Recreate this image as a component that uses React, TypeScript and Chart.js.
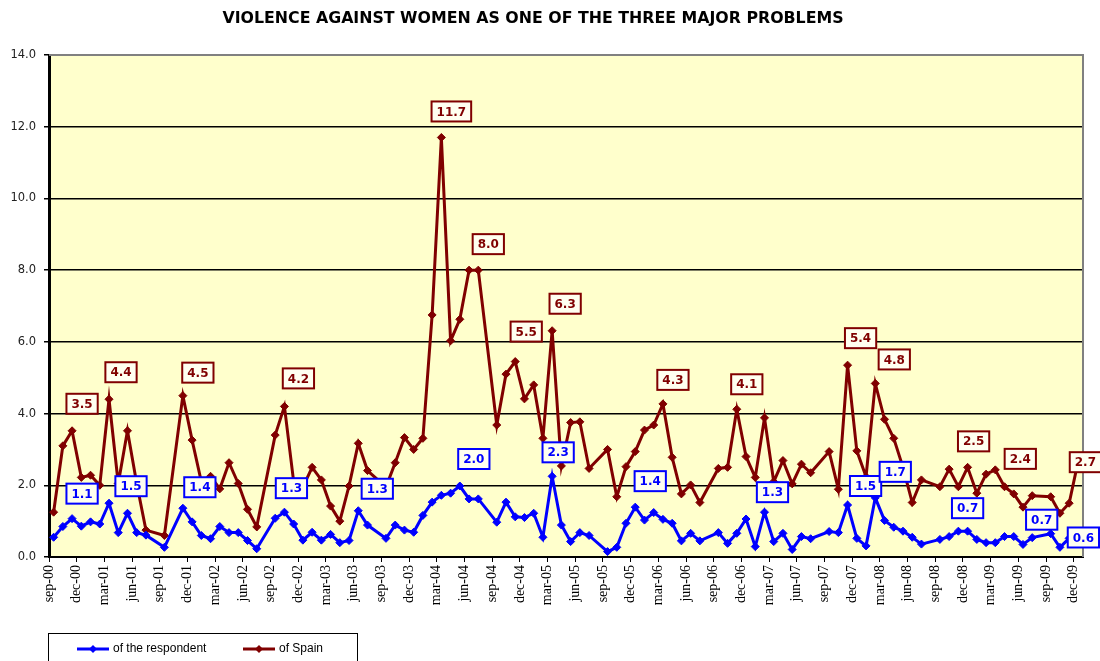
import { useEffect, useRef } from 'react';
import { Chart, registerables } from 'chart.js';

Chart.register(...registerables);

const TITLE = 'VIOLENCE AGAINST WOMEN AS ONE OF THE THREE MAJOR PROBLEMS';
const seriesNames = ['of the respondent', 'of Spain'];

// survey months (August and oct-01 have no survey)
const surveyMonths = [
  'sep-00', 'oct-00', 'nov-00', 'dec-00',
  'jan-01', 'feb-01', 'mar-01', 'apr-01', 'may-01', 'jun-01', 'jul-01', 'sep-01', 'nov-01', 'dec-01',
  'jan-02', 'feb-02', 'mar-02', 'apr-02', 'may-02', 'jun-02', 'jul-02', 'sep-02', 'oct-02', 'nov-02', 'dec-02',
  'jan-03', 'feb-03', 'mar-03', 'apr-03', 'may-03', 'jun-03', 'jul-03', 'sep-03', 'oct-03', 'nov-03', 'dec-03',
  'jan-04', 'feb-04', 'mar-04', 'apr-04', 'may-04', 'jun-04', 'jul-04', 'sep-04', 'oct-04', 'nov-04', 'dec-04',
  'jan-05', 'feb-05', 'mar-05', 'apr-05', 'may-05', 'jun-05', 'jul-05', 'sep-05', 'oct-05', 'nov-05', 'dec-05',
  'jan-06', 'feb-06', 'mar-06', 'apr-06', 'may-06', 'jun-06', 'jul-06', 'sep-06', 'oct-06', 'nov-06', 'dec-06',
  'jan-07', 'feb-07', 'mar-07', 'apr-07', 'may-07', 'jun-07', 'jul-07', 'sep-07', 'oct-07', 'nov-07', 'dec-07',
  'jan-08', 'feb-08', 'mar-08', 'apr-08', 'may-08', 'jun-08', 'jul-08', 'sep-08', 'oct-08', 'nov-08', 'dec-08',
  'jan-09', 'feb-09', 'mar-09', 'apr-09', 'may-09', 'jun-09', 'jul-09', 'sep-09', 'oct-09', 'nov-09', 'dec-09',
];

const respondentValues = [
  0.55, 0.85, 1.07, 0.86,
  0.98, 0.92, 1.5, 0.68, 1.22, 0.68, 0.61, 0.27, 1.36, 0.98,
  0.6, 0.51, 0.85, 0.68, 0.68, 0.46, 0.23, 1.08, 1.25, 0.92, 0.47,
  0.69, 0.47, 0.63, 0.4, 0.46, 1.29, 0.89, 0.52, 0.89, 0.75, 0.69,
  1.16, 1.53, 1.72, 1.78, 1.98, 1.62, 1.62, 0.97, 1.53, 1.12, 1.1,
  1.22, 0.55, 2.25, 0.89, 0.43, 0.68, 0.6, 0.15, 0.27, 0.94, 1.39,
  1.03, 1.24, 1.05, 0.94, 0.45, 0.66, 0.45, 0.68, 0.38, 0.66, 1.06,
  0.29, 1.25, 0.43, 0.66, 0.21, 0.57, 0.51, 0.71, 0.68, 1.45, 0.52,
  0.31, 1.65, 1.02, 0.83, 0.72, 0.55, 0.36, 0.49, 0.57, 0.72, 0.72,
  0.49, 0.4, 0.4, 0.57, 0.57, 0.35, 0.54, 0.65, 0.27, 0.52, 0.6,
];

const spainValues = [
  1.25, 3.1, 3.52, 2.22,
  2.28, 2.0, 4.4, 2.05, 3.52, 2.05, 0.75, 0.6, 4.5, 3.26,
  2.1, 2.25, 1.9, 2.63, 2.05, 1.33, 0.84, 3.4, 4.2, 2.1, 1.95,
  2.5, 2.15, 1.42, 1.0, 1.98, 3.17, 2.41, 1.95, 2.63, 3.33, 3.0,
  3.31, 6.75, 11.7, 6.03, 6.63, 8.0, 8.0, 3.68, 5.1, 5.45, 4.41,
  4.8, 3.31, 6.31, 2.54, 3.75, 3.77, 2.47, 3.0, 1.68, 2.52, 2.94,
  3.54, 3.68, 4.27, 2.78, 1.76, 2.01, 1.52, 2.47, 2.5, 4.12, 2.8,
  2.22, 3.88, 2.1, 2.69, 2.04, 2.59, 2.35, 2.94, 1.89, 5.35, 2.96,
  2.24, 4.84, 3.84, 3.31, 2.5, 1.52, 2.15, 1.96, 2.45, 1.96, 2.5,
  1.78, 2.31, 2.43, 1.96, 1.76, 1.39, 1.71, 1.68, 1.22, 1.5, 2.7,
];

const tickLabels = [
  'sep-00', 'dec-00',
  'mar-01', 'jun-01', 'sep-01', 'dec-01',
  'mar-02', 'jun-02', 'sep-02', 'dec-02',
  'mar-03', 'jun-03', 'sep-03', 'dec-03',
  'mar-04', 'jun-04', 'sep-04', 'dec-04',
  'mar-05', 'jun-05', 'sep-05', 'dec-05',
  'mar-06', 'jun-06', 'sep-06', 'dec-06',
  'mar-07', 'jun-07', 'sep-07', 'dec-07',
  'mar-08', 'jun-08', 'sep-08', 'dec-08',
  'mar-09', 'jun-09', 'sep-09', 'dec-09',
];

// data labels shown in the chart
const respondentLabelMonths = ['nov-00', 'mar-01', 'nov-01', 'oct-02', 'jun-03', 'may-04', 'mar-05', 'dec-05', 'feb-07', 'nov-07', 'feb-08', 'dec-08', 'sep-09', 'dec-09'];
const respondentLabelTexts = ['1.1', '1.5', '1.4', '1.3', '1.3', '2.0', '2.3', '1.4', '1.3', '1.5', '1.7', '0.7', '0.7', '0.6'];
const spainLabelMonths = ['nov-00', 'mar-01', 'nov-01', 'oct-02', 'mar-04', 'jul-04', 'nov-04', 'mar-05', 'mar-06', 'nov-06', 'nov-07', 'feb-08', 'dec-08', 'mar-09', 'dec-09'];
const spainLabelTexts = ['3.5', '4.4', '4.5', '4.2', '11.7', '8.0', '5.5', '6.3', '4.3', '4.1', '5.4', '4.8', '2.5', '2.4', '2.7'];

// styling: label box offsets (px) from their point
const respondentLabelOffsets = [[10, -25], [22, -17], [17, -21], [7, -24], [19, -22], [14, -27], [6, -24], [15, -26], [8, -20], [18, -19], [20, -26], [0, -23], [-9, -14], [5, 2]];
const spainLabelOffsets = [[10, -27], [12, -27], [15, -23], [14, -28], [10, -26], [10, -26], [11, -30], [13, -27], [10, -24], [10, -25], [13, -27], [19, -24], [6, -26], [25, -11], [7, 2]];

const MONTH_NAMES = ['jan', 'feb', 'mar', 'apr', 'may', 'jun', 'jul', 'aug', 'sep', 'oct', 'nov', 'dec'];
const monthIndex = (label: string) => {
  const [m, y] = label.split('-');
  return Number(y) * 12 + MONTH_NAMES.indexOf(m) - 8;
};

const BLUE = '#0000FF';
const RED = '#800000';
const PLOT_BG = '#FFFFCC';

export default function App() {
  const ref = useRef<HTMLCanvasElement | null>(null);

  useEffect(() => {
    const canvas = ref.current;
    if (!canvas) return;

    const decor = {
      id: 'decor',
      beforeDraw(chart: any) {
        const { ctx, chartArea: a } = chart;
        ctx.save();
        ctx.fillStyle = PLOT_BG;
        ctx.fillRect(a.left, a.top, a.right - a.left, a.bottom - a.top);
        ctx.restore();
      },
      afterDatasetsDraw(chart: any) {
        const { ctx, chartArea: a } = chart;
        ctx.save();
        // top and right frame
        ctx.strokeStyle = '#808080';
        ctx.lineWidth = 2;
        ctx.beginPath();
        ctx.moveTo(a.left, a.top);
        ctx.lineTo(a.right, a.top);
        ctx.lineTo(a.right, a.bottom);
        ctx.stroke();

        const drawLabels = (di: number, months: string[], texts: string[], offs: number[][], color: string) => {
          const meta = chart.getDatasetMeta(di);
          ctx.font = 'bold 12px "DejaVu Sans"';
          ctx.textAlign = 'center';
          ctx.textBaseline = 'middle';
          months.forEach((m, i) => {
            const idx = surveyMonths.indexOf(m);
            const pt = meta.data[idx];
            if (!pt) return;
            const cx = pt.x + offs[i][0];
            const cy = pt.y + offs[i][1];
            const w = ctx.measureText(texts[i]).width + 10;
            const h = 20;
            ctx.fillStyle = '#FFFFF0';
            ctx.fillRect(cx - w / 2, cy - h / 2, w, h);
            ctx.strokeStyle = color;
            ctx.lineWidth = 2;
            ctx.strokeRect(cx - w / 2, cy - h / 2, w, h);
            ctx.fillStyle = color;
            ctx.fillText(texts[i], cx, cy + 1);
          });
        };
        drawLabels(1, spainLabelMonths, spainLabelTexts, spainLabelOffsets, RED);
        drawLabels(0, respondentLabelMonths, respondentLabelTexts, respondentLabelOffsets, BLUE);
        ctx.restore();
      },
      afterDraw(chart: any) {
        const { ctx } = chart;
        ctx.save();
        // title
        ctx.fillStyle = '#000';
        ctx.font = 'bold 15.8px "DejaVu Sans"';
        ctx.textAlign = 'center';
        ctx.textBaseline = 'middle';
        ctx.fillText(TITLE, 533, 19);

        // legend
        ctx.strokeStyle = '#000';
        ctx.lineWidth = 1;
        ctx.strokeRect(48.5, 633.5, 309, 40);
        const items = [
          { x: 77, color: BLUE, text: seriesNames[0] },
          { x: 243, color: RED, text: seriesNames[1] },
        ];
        ctx.font = '12px "Liberation Sans"';
        ctx.textAlign = 'left';
        items.forEach((it) => {
          const y = 649;
          ctx.strokeStyle = it.color;
          ctx.lineWidth = 3;
          ctx.beginPath();
          ctx.moveTo(it.x, y);
          ctx.lineTo(it.x + 32, y);
          ctx.stroke();
          ctx.fillStyle = it.color;
          ctx.beginPath();
          const c = it.x + 16;
          ctx.moveTo(c, y - 4);
          ctx.lineTo(c + 4, y);
          ctx.lineTo(c, y + 4);
          ctx.lineTo(c - 4, y);
          ctx.closePath();
          ctx.fill();
          ctx.fillStyle = '#000';
          ctx.fillText(it.text, it.x + 36, y);
        });
        ctx.restore();
      },
    };

    const toPoints = (vals: number[]) =>
      surveyMonths.map((m, i) => ({ x: monthIndex(m) + 0.5, y: vals[i] }));

    const chart = new Chart(canvas, {
      type: 'line',
      data: {
        datasets: [
          {
            label: seriesNames[0],
            data: toPoints(respondentValues),
            borderColor: BLUE,
            backgroundColor: BLUE,
            borderWidth: 3,
            pointStyle: 'rectRot',
            pointRadius: 4,
            pointBorderWidth: 1,
            tension: 0,
          },
          {
            label: seriesNames[1],
            data: toPoints(spainValues),
            borderColor: RED,
            backgroundColor: RED,
            borderWidth: 3,
            pointStyle: 'rectRot',
            pointRadius: 4,
            pointBorderWidth: 1,
            tension: 0,
          },
        ],
      },
      options: {
        responsive: false,
        animation: false,
        devicePixelRatio: 1,
        layout: { padding: { left: 0, top: 55, right: 17, bottom: 0 } },
        plugins: {
          legend: { display: false },
          title: { display: false },
          tooltip: { enabled: false },
        },
        scales: {
          x: {
            type: 'linear',
            min: 0,
            max: 112,
            afterBuildTicks: (s: any) => {
              s.ticks = tickLabels.map((_, i) => ({ value: i * 3 }));
            },
            afterFit: (s: any) => {
              s.height = 104;
            },
            ticks: {
              autoSkip: false,
              maxRotation: 90,
              minRotation: 90,
              padding: 3,
              color: '#000',
              font: { family: '"Liberation Serif"', size: 14 },
              callback: (v: any) => tickLabels[Math.round(Number(v) / 3)] ?? '',
            },
            grid: { drawOnChartArea: false, drawTicks: true, tickLength: 5, color: '#000', lineWidth: 1 },
            border: { display: true, color: '#000', width: 2 },
          },
          y: {
            min: 0,
            max: 14,
            afterFit: (s: any) => {
              s.width = 49;
            },
            ticks: {
              stepSize: 2,
              padding: 8,
              color: '#222',
              font: { family: '"DejaVu Sans"', size: 11.5 },
              callback: (v: any) => Number(v).toFixed(1),
            },
            grid: { color: '#000', lineWidth: 1.5, tickLength: 5, drawTicks: true },
            border: { display: true, color: '#000', width: 3 },
          },
        },
      },
      plugins: [decor],
    } as any);

    return () => chart.destroy();
  }, []);

  return (
    <div style={{ position: 'absolute', left: 0, top: 0, width: 1100, height: 661, background: '#fff' }}>
      <canvas ref={ref} width={1100} height={661} style={{ display: 'block' }} />
    </div>
  );
}
